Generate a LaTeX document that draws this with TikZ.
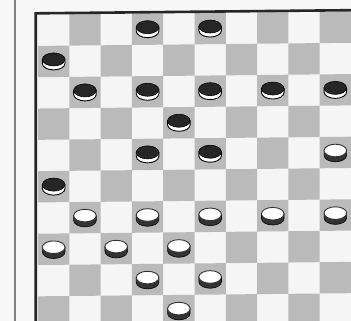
\documentclass[tikz,border=0pt]{standalone}
\begin{document}
\begin{tikzpicture}[x=1pt,y=-1pt,
  darksq/.style={fill=black!27},
  bman/.pic={
    \filldraw[fill=white,draw=black,line width=0.9pt] (-11.3,0) -- (-11.3,4) arc (180:0:11.3 and 6.5) -- (11.3,0) -- cycle;
    \filldraw[fill=black!85,draw=black,line width=0.6pt] (0,0) ellipse (11.3 and 6.5);
  },
  wman/.pic={
    \filldraw[fill=black!80,draw=black,line width=0.6pt] (-11.3,0) -- (-11.3,4.8) arc (180:0:11.3 and 6.5) -- (11.3,0) -- cycle;
    \filldraw[fill=white,draw=black!80,line width=0.9pt] (0,0) ellipse (11.3 and 6.3);
  }]
\useasboundingbox (0,0) rectangle (351,321);
\clip (0,0) rectangle (351,321);
\fill[black!3] (0,0) rectangle (351,321);
\draw[black!50,line width=1.2pt] (15,0) -- (15,321);
\begin{scope}[yslant=0.01]
  \fill[black!4] (37,15) rectangle (360,340);
  \foreach \r in {0,...,9} {
    \foreach \c in {0,...,9} {
      \pgfmathtruncatemacro\p{mod(\r+\c,2)}
      \ifnum\p=1
        \fill[darksq] ({38+31.3*\c},{15+31.3*\r}) rectangle ++(31.3,31.3);
      \fi
    }
  }
  \draw[black!85,line width=2.6pt] (35.7,340) -- (35.7,13.7) -- (360,13.7);
  \foreach \c/\r in {3/0,5/0,0/1,1/2,3/2,5/2,7/2,9/2,4/3,3/4,5/4,0/5} {
    \pic at ({38+31.3*(\c+0.5)},{15+31.3*(\r+0.5)-2}) {bman};
  }
  \foreach \c/\r in {9/4,1/6,3/6,5/6,7/6,9/6,0/7,2/7,4/7,3/8,5/8,4/9} {
    \pic at ({38+31.3*(\c+0.5)},{15+31.3*(\r+0.5)-2}) {wman};
  }
\end{scope}
\end{tikzpicture}
\end{document}
